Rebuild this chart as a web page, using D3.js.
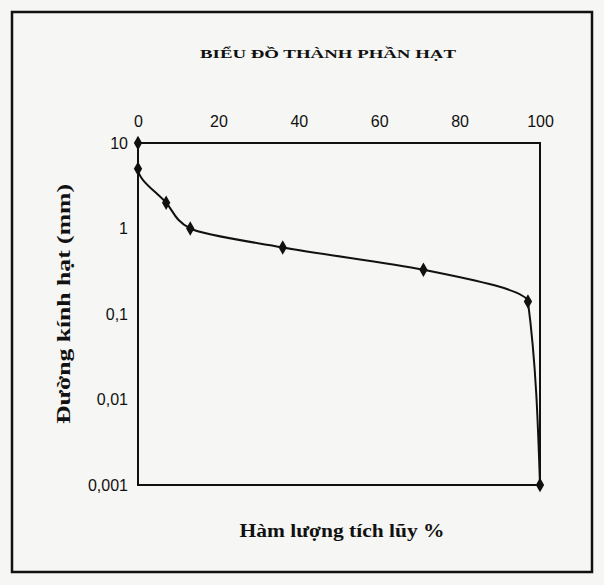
<!DOCTYPE html>
<html>
<head>
<meta charset="utf-8">
<script src="https://cdn.jsdelivr.net/npm/d3@7/dist/d3.min.js"></script>
<style>
  html, body { margin: 0; padding: 0; background: #f6f6f4; }
  svg { display: block; }
</style>
</head>
<body>
<div id="chart"></div>
<script>
// --- data ---
const cumPercent = [0, 0, 7, 13, 36, 71, 97, 100];          // Hàm lượng tích lũy %
const diameterMm = [10, 5, 2, 1, 0.6, 0.33, 0.14, 0.001];    // Đường kính hạt (mm)
const xTicks = [0, 20, 40, 60, 80, 100];
const yTicks = [10, 1, 0.1, 0.01, 0.001];
const yTickLabels = ["10", "1", "0,1", "0,01", "0,001"];

const W = 604, H = 585;
const plot = { left: 138, right: 540, top: 143, bottom: 485 };

const svg = d3.select("#chart").append("svg").attr("width", W).attr("height", H);

// outer frame of the figure
svg.append("rect")
  .attr("x", 12).attr("y", 12).attr("width", 580).attr("height", 560)
  .attr("fill", "none").attr("stroke", "#111").attr("stroke-width", 2.5);

svg.append("text")
  .attr("x", 328).attr("y", 58).attr("text-anchor", "middle")
  .attr("font-family", "Liberation Serif, serif").attr("font-weight", "bold")
  .attr("font-size", 13).attr("textLength", 256).attr("lengthAdjust", "spacingAndGlyphs")
  .attr("fill", "#111")
  .text("BIỂU ĐỒ THÀNH PHẦN HẠT");

const x = d3.scaleLinear().domain([0, 100]).range([plot.left, plot.right]);
const y = d3.scaleLog().domain([0.001, 10]).range([plot.bottom, plot.top]);

// plot area border
svg.append("rect")
  .attr("x", plot.left).attr("y", plot.top)
  .attr("width", plot.right - plot.left).attr("height", plot.bottom - plot.top)
  .attr("fill", "none").attr("stroke", "#111").attr("stroke-width", 2);

// top x axis (labels only)
const xAxis = svg.append("g")
  .attr("transform", `translate(0,${plot.top - 16})`)
  .call(d3.axisTop(x).tickValues(xTicks).tickSize(0).tickPadding(0));
xAxis.select(".domain").remove();
xAxis.selectAll("text")
  .attr("font-family", "Liberation Sans, Arial, sans-serif").attr("font-size", 16).attr("fill", "#111");

// left y axis (labels only)
const yAxis = svg.append("g")
  .attr("transform", `translate(${plot.left - 10},0)`)
  .call(d3.axisLeft(y).tickValues(yTicks).tickSize(0).tickPadding(0)
    .tickFormat((d, i) => yTickLabels[i]));
yAxis.select(".domain").remove();
yAxis.selectAll("text")
  .attr("font-family", "Liberation Sans, Arial, sans-serif").attr("font-size", 16).attr("fill", "#111");

// axis titles
svg.append("text")
  .attr("transform", `translate(70,${(plot.top + plot.bottom) / 2 - 10}) rotate(-90)`)
  .attr("text-anchor", "middle")
  .attr("font-family", "Liberation Serif, serif").attr("font-weight", "bold")
  .attr("font-size", 19).attr("textLength", 240).attr("lengthAdjust", "spacingAndGlyphs")
  .attr("fill", "#111")
  .text("Đường kính hạt (mm)");

svg.append("text")
  .attr("x", 342).attr("y", 537).attr("text-anchor", "middle")
  .attr("font-family", "Liberation Serif, serif").attr("font-weight", "bold")
  .attr("font-size", 18).attr("textLength", 205).attr("lengthAdjust", "spacingAndGlyphs")
  .attr("fill", "#111")
  .text("Hàm lượng tích lũy %");

// smoothed grading curve (monotone in y so it stays inside the frame)
const pts = cumPercent.map((c, i) => [x(c), y(diameterMm[i])]);
svg.append("path")
  .attr("d", d3.line().curve(d3.curveMonotoneY)(pts))
  .attr("fill", "none").attr("stroke", "#111").attr("stroke-width", 2);

svg.selectAll("path.mk").data(pts).join("path")
  .attr("class", "mk")
  .attr("transform", d => `translate(${d[0]},${d[1]})`)
  .attr("d", d3.symbol().type(d3.symbolDiamond).size(60))
  .attr("fill", "#111");
</script>
</body>
</html>
